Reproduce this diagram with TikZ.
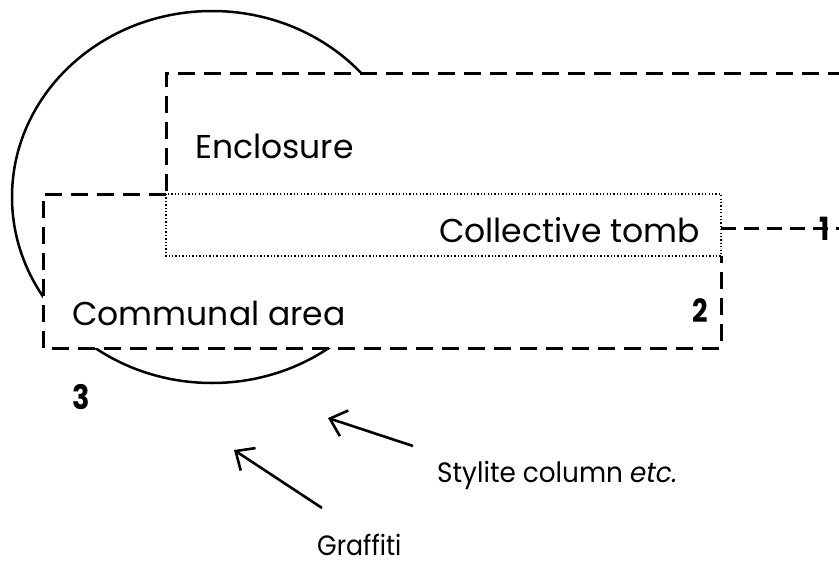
\documentclass[tikz,border=0pt]{standalone}
\usepackage{fontspec}
\setmainfont{Poppins}
\usetikzlibrary{arrows.meta}
\begin{document}
\begin{tikzpicture}[x=1pt,y=-1pt,
  bigdash/.style={line width=3pt,dash pattern=on 17pt off 9pt},
  finedots/.style={line width=1.7pt,dash pattern=on 1.3pt off 2.1pt},
  ring/.style={line width=2.5pt},
  lbl/.style={inner sep=0pt,font=\fontsize{33}{35}\selectfont},
  num/.style={inner sep=0pt,font=\fontsize{32}{34}\selectfont\bfseries},
  note/.style={inner sep=0pt,font=\fontsize{28}{30}\selectfont},
  pointer/.style={line width=2.6pt,-{Straight Barb[length=15pt,width=27pt,line width=2.6pt]}}]
\useasboundingbox (0,0) rectangle (839,565);

% corner points of the three areas
\coordinate (encNW) at (166,73);
\coordinate (comNW) at (43,194);
\coordinate (comSE) at (721,348);
\coordinate (tombNW) at (166,194);
\coordinate (tombSE) at (721,256);
\coordinate (tombE) at (721,228);
\coordinate (edgeR) at (845,228);

% the round outline, partly hidden behind the areas
\draw[ring] (212,197) ellipse [x radius=200, y radius=186];
\fill[white] (encNW) rectangle (845,256);
\fill[white] (comNW) rectangle (comSE);

% enclosure: open to the right
\draw[bigdash] (845,73) -- (encNW) -- (tombNW);

% communal area
\draw[bigdash] (tombNW) -- (comNW) -- (43,348) -- (comSE) -- (721,256);

% collective tomb
\draw[finedots] (tombNW) rectangle (tombSE);

% link to the number 1
\draw[bigdash,dash pattern=on 15pt off 8pt] (tombE) -- (edgeR);

% labels
\node[lbl,anchor=base west] (enc) at (195,158) {Enclosure};
\node[lbl,anchor=base east] (tomb) at (700,242) {Collective tomb};
\node[lbl,anchor=base west] (com) at (72,325) {Communal area};
\node[num,anchor=base east] (two) at (708,322) {\scalebox{0.85}[1]{2}};
\node[num,anchor=base west] (three) at (72,409) {\scalebox{0.9}[1.05]{3}};
\node[num,anchor=base] (one) at (825,240) {\scalebox{0.85}[1]{1}};
\node[note,anchor=base west] (stylite) at (437,482) {\scalebox{0.94}[1]{Stylite column \textit{etc.}}};
\node[note,anchor=base west] (graffiti) at (317,555) {\scalebox{0.9}[1]{Graffiti}};

% pointers
\coordinate (styTail) at (413,446);
\coordinate (styTip) at (328,418);
\coordinate (grTail) at (322,508);
\coordinate (grTip) at (234,450);
\draw[pointer] (styTail) -- (styTip);
\draw[pointer] (grTail) -- (grTip);
\end{tikzpicture}
\end{document}
